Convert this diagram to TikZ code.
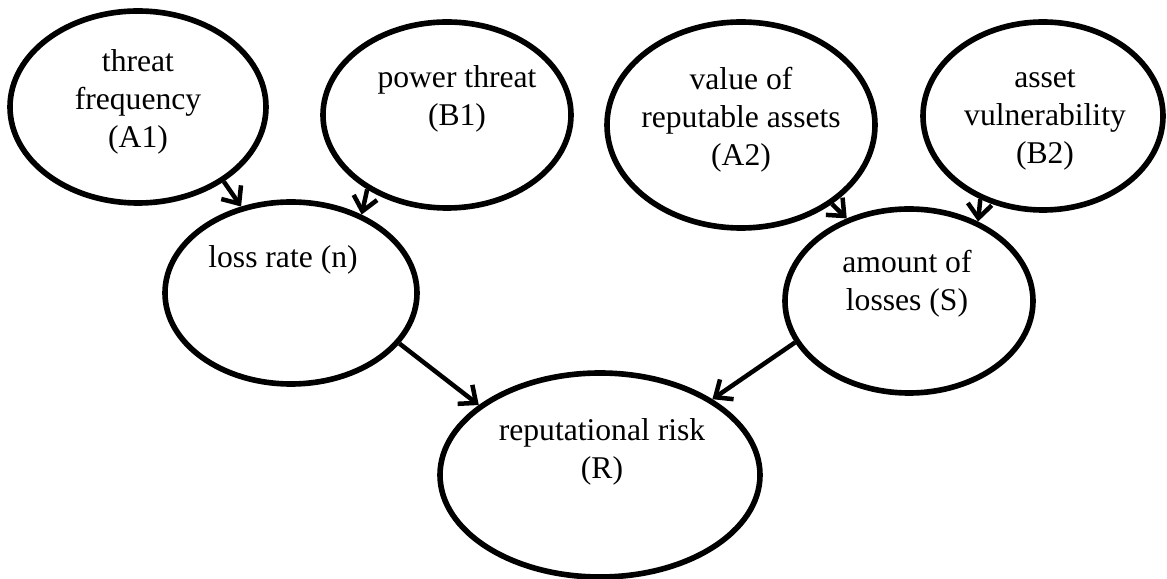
\documentclass[tikz,border=0pt]{standalone}
\usepackage{fontspec}
\setmainfont{Liberation Serif}
\usepackage{tikz}
\usetikzlibrary{positioning}
\usetikzlibrary{arrows.meta}
\usetikzlibrary{shapes.geometric}

\tikzset{
  bub/.style={ellipse, draw, line width=4pt, inner sep=0pt},
  lbl/.style={align=center, font=\fontsize{22.5}{27}\selectfont},
  arr/.style={-{Straight Barb[length=3.5mm,width=6mm]}, line width=3.2pt}
}

\begin{document}
\begin{tikzpicture}[on grid]
  \useasboundingbox (0,0) rectangle (29.175,-14.475);
  % nodes %
  \node[bub, minimum width=6.4cm, minimum height=4.8cm] (a1) at (3.45,-2.675) {};
  \node[bub, minimum width=6.2cm, minimum height=4.65cm, below right=0.2 and 7.725 of a1] (b1) {};
  \node[bub, minimum width=6.7cm, minimum height=5.15cm, below right=0.25 and 7.35 of b1] (a2) {};
  \node[bub, minimum width=6.0cm, minimum height=4.7cm, above right=0.225 and 7.55 of a2] (b2) {};
  \node[bub, minimum width=6.3cm, minimum height=4.55cm, below right=4.65 and 3.825 of a1] (n) {};
  \node[bub, minimum width=6.2cm, minimum height=4.6cm, below right=4.4 and 4.2 of a2] (s) {};
  \node[bub, minimum width=8.0cm, minimum height=5.1cm, below right=4.55 and 7.725 of n] (r) {};
  % labels %
  \node[lbl] (a1-t) at ([yshift=0.125cm]a1.center) {threat\\frequency\\(A1)};
  \node[lbl] (b1-t) at ([shift={(0.25,0.4)}]b1.center) {power threat\\(B1)};
  \node[lbl] (a2-t) at ([yshift=0.125cm]a2.center) {value of\\reputable assets\\(A2)};
  \node[lbl] (b2-t) at ([shift={(0.05,-0.1)}]b2.center) {asset\\vulnerability\\(B2)};
  \node[lbl] (n-t) at ([shift={(-0.2,0.825)}]n.center) {loss rate (n)};
  \node[lbl] (s-t) at ([shift={(-0.05,0.425)}]s.center) {amount of\\losses (S)};
  \node[lbl] (r-t) at ([shift={(0.05,0.575)}]r.center) {reputational risk\\(R)};
  % edges %
  \draw[arr] (a1.-41) -- (n.120);
  \draw[arr] (b1.223) -- (n.48);
  \draw[arr] (a2.-41) -- (s.127);
  \draw[arr] (b2.233) -- (s.49);
  \draw[arr] (n.-25) -- (r.150);
  \draw[arr] (s.200) -- (r.34);
\end{tikzpicture}
\end{document}
